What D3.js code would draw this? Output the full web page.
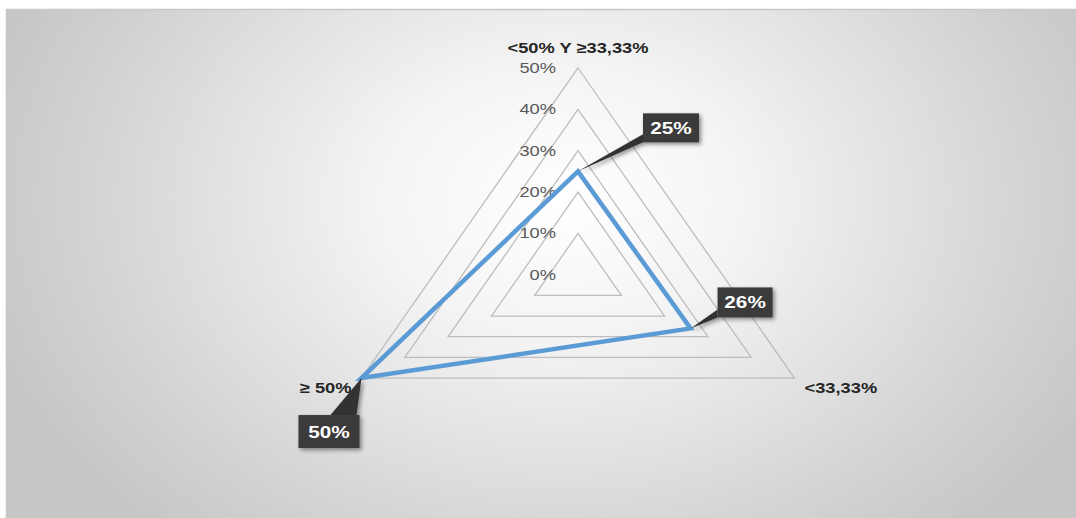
<!DOCTYPE html>
<html><head><meta charset="utf-8">
<script src="https://cdn.jsdelivr.net/npm/d3@7"></script>
<style>html,body{margin:0;padding:0;background:#fff;}svg{display:block;}</style>
</head><body>
<svg id="chart" width="1076" height="518"></svg>
<script>
const categories = ["<50% Y \u226533,33%", "<33,33%", "\u2265 50%"];
const values = [0.25, 0.26, 0.50];
const valueLabels = ["25%", "26%", "50%"];
const tickValues = [0, 0.1, 0.2, 0.3, 0.4, 0.5];
const tickLabels = ["0%", "10%", "20%", "30%", "40%", "50%"];

const W = 1076, H = 518;
const svg = d3.select("#chart");
const defs = svg.append("defs");
const rg = defs.append("radialGradient").attr("id","bg").attr("gradientUnits","userSpaceOnUse")
  .attr("cx",560).attr("cy",200).attr("r",600).attr("fx",560).attr("fy",200)
  .attr("gradientTransform","translate(560,200) scale(1,0.75) translate(-560,-200)");
rg.append("stop").attr("offset","0").attr("stop-color","#ffffff");
rg.append("stop").attr("offset","0.3").attr("stop-color","#f4f4f4");
rg.append("stop").attr("offset","0.8").attr("stop-color","#d2d2d2");
rg.append("stop").attr("offset","1").attr("stop-color","#c6c6c6");
const sh = defs.append("filter").attr("id","shadow").attr("x","-30%").attr("y","-30%").attr("width","170%").attr("height","170%");
sh.append("feDropShadow").attr("dx",2).attr("dy",2).attr("stdDeviation",2).attr("flood-color","#000").attr("flood-opacity",0.45);

svg.append("rect").attr("x",0).attr("y",0).attr("width",W).attr("height",H).attr("fill","#fff");
svg.append("rect").attr("x",6.5).attr("y",9.5).attr("width",W).attr("height",H).attr("fill","url(#bg)").attr("stroke","#c8c8c8").attr("stroke-width",1.5);

const cx = 578, cy = 274.7, rY = 206.7, rX = 250;
const r = d3.scaleLinear().domain([0, 0.5]).range([0, 1]);
const angle = d3.scaleBand().domain(categories).range([0, 2*Math.PI]);
function pt(cat, v) {
  const a = angle(cat);
  return [cx + Math.sin(a) * r(v) * rX, cy - Math.cos(a) * r(v) * rY];
}
const SX = 1.22;
function addText(parent, x, y, anchor, str, attrs) {
  const t = parent.append("g").attr("transform", `translate(${x},${y}) scale(${SX},1)`)
    .append("text").attr("x",0).attr("y",0).attr("text-anchor",anchor).text(str);
  for (const k in attrs) t.attr(k, attrs[k]);
  return t;
}

const g = svg.append("g");
tickValues.filter(t => t > 0).forEach(t => {
  const pts = categories.map(c => pt(c, t));
  g.append("path").attr("d", d3.line()(pts) + "Z")
    .attr("fill","none").attr("stroke", "#bdbdbd").attr("stroke-width",1.3);
});
const tickFont = {"font-family":"Liberation Sans, Arial, sans-serif","font-size":15,"fill":"#595959"};
tickValues.forEach((t,i) => {
  const p = pt(categories[0], t);
  addText(g, cx - 22, p[1] + 5, "end", tickLabels[i], tickFont);
});
const catFont = {"font-family":"Liberation Sans, Arial, sans-serif","font-size":15,"font-weight":"bold","fill":"#262626"};
{
  const p0 = pt(categories[0], 0.5);
  addText(g, p0[0], p0[1]-15, "middle", categories[0], catFont);
  const p1 = pt(categories[1], 0.5);
  addText(g, p1[0]+10, p1[1]+15, "start", categories[1], catFont);
  const p2 = pt(categories[2], 0.5);
  addText(g, p2[0]-10, p2[1]+15, "end", categories[2], catFont);
}
const dataPts = categories.map((c,i) => pt(c, values[i]));
g.append("path").attr("d", d3.line()(dataPts) + "Z").attr("fill","none")
  .attr("stroke","#5b9bd5").attr("stroke-width",4.5).attr("stroke-linejoin","miter");

const labelBoxes = [
  {dx: 65, dy: -58, w: 56, h: 29, wedge: [[0,29],[0,21]]},
  {dx: 27, dy: -41, w: 55, h: 30, wedge: [[0,30],[0,22]]},
  {dx: -63, dy: 37, w: 61, h: 33, wedge: [[32,0],[58,0]]}
];
const valFont = {"font-family":"Liberation Sans, Arial, sans-serif","font-size":17,"font-weight":"bold","fill":"#ffffff"};
dataPts.forEach((p,i) => {
  const b = labelBoxes[i];
  const bx = p[0] + b.dx, by = p[1] + b.dy;
  const lg = g.append("g").attr("filter","url(#shadow)");
  lg.append("path").attr("d", d3.line()([[p[0],p[1]],[bx+b.wedge[0][0],by+b.wedge[0][1]],[bx+b.wedge[1][0],by+b.wedge[1][1]]]) + "Z")
    .attr("fill","#333333");
  lg.append("rect").attr("x",bx).attr("y",by).attr("width",b.w).attr("height",b.h).attr("fill","#3a3a3a");
  addText(g, bx + b.w/2, by + b.h/2 + 6, "middle", valueLabels[i], valFont);
});
</script>
</body></html>
